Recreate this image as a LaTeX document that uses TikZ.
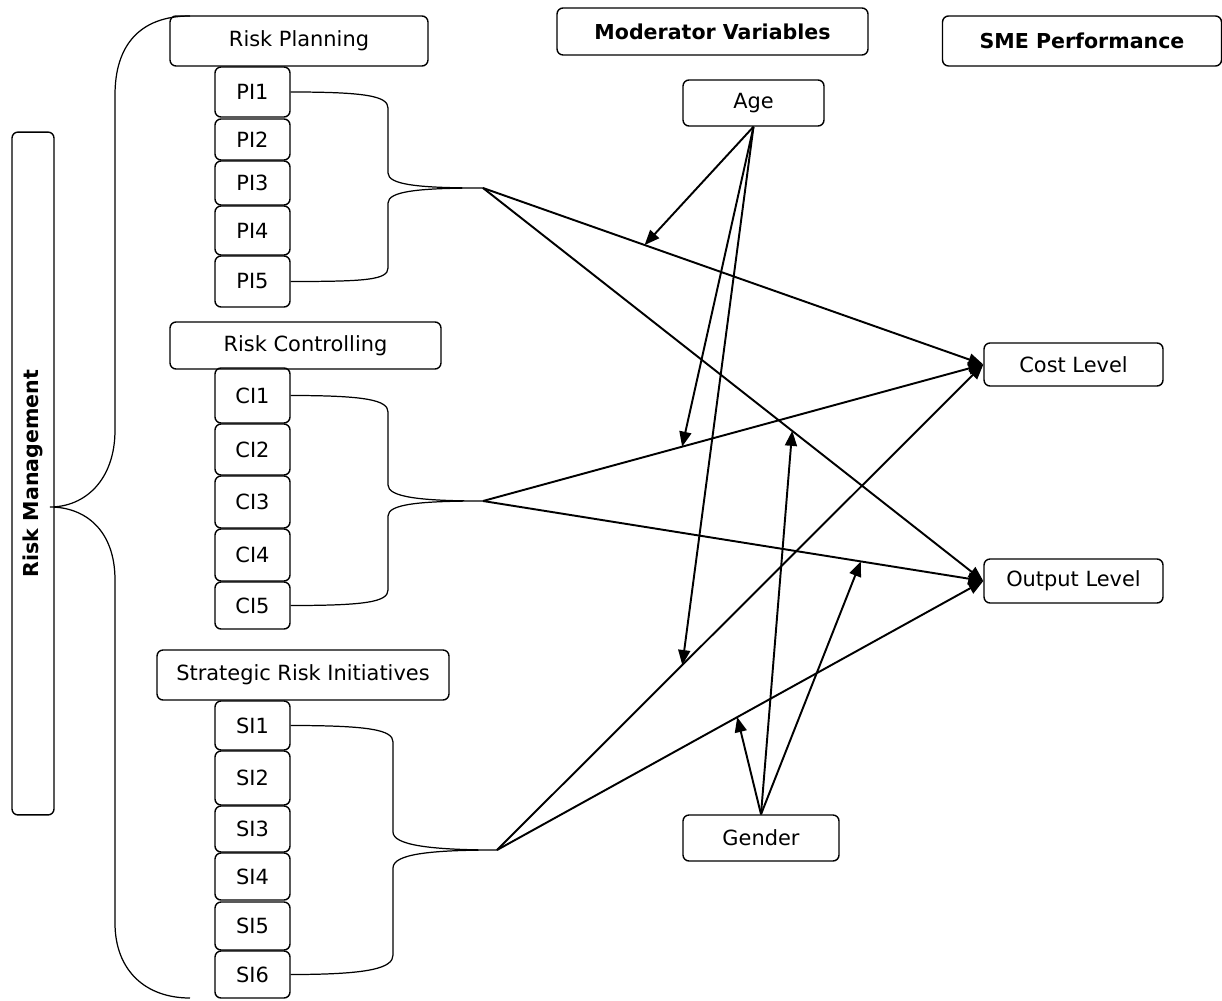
\documentclass[tikz,border=0pt]{standalone}
\usepackage{fontspec}
\setmainfont{DejaVu Sans}
\usetikzlibrary{arrows.meta}

\begin{document}
\begin{tikzpicture}[x=0.02cm, y=-0.02cm,
    box/.style={draw, rounded corners=0.12cm, line width=0.8pt, inner sep=0pt,
      font=\fontsize{11.9}{14}\selectfont},
    head/.style={box, font=\fontsize{11.7}{14}\selectfont\bfseries},
    item/.style={box, minimum width=1.5cm},
    arr/.style={line width=1.1pt, -{Triangle[length=0.3cm,width=0.24cm]}},
    brc/.style={line width=0.7pt}]
  \useasboundingbox (0,0) rectangle (1222,1000);

  %% headings
  \node[head, rotate=90, minimum width=13.66cm, minimum height=0.84cm] (rm) at (33,473.5) {Risk Management};
  \node[head, minimum width=6.22cm, minimum height=0.94cm] (mv) at (712.5,31.5) {Moderator Variables};
  \node[head, minimum width=5.58cm, minimum height=1cm] (sme) at (1082,41) {SME Performance};

  %% risk planning
  \node[box, minimum width=5.16cm, minimum height=1cm] (rp) at (299,41) {Risk Planning};
    \node[item, minimum height=1cm] (pi1) at (252.5,92) {PI1};
    \node[item, minimum height=0.82cm] (pi2) at (252.5,139.5) {PI2};
    \node[item, minimum height=0.88cm] (pi3) at (252.5,183) {PI3};
    \node[item, minimum height=0.98cm] (pi4) at (252.5,230.5) {PI4};
    \node[item, minimum height=1.02cm] (pi5) at (252.5,281.5) {PI5};

  %% risk controlling
  \node[box, minimum width=5.42cm, minimum height=0.94cm] (rc) at (305.5,345.5) {Risk Controlling};
    \node[item, minimum height=1.1cm] (ci1) at (252.5,395.5) {CI1};
    \node[item, minimum height=1.02cm] (ci2) at (252.5,449.5) {CI2};
    \node[item, minimum height=1.04cm] (ci3) at (252.5,502) {CI3};
    \node[item, minimum height=1.04cm] (ci4) at (252.5,555) {CI4};
    \node[item, minimum height=0.94cm] (ci5) at (252.5,605.5) {CI5};

  %% strategic risk initiatives
  \node[box, minimum width=5.84cm, minimum height=1cm] (sri) at (303,675) {Strategic Risk Initiatives};
    \node[item, minimum height=0.98cm] (si1) at (252.5,725.5) {SI1};
    \node[item, minimum height=1.08cm] (si2) at (252.5,778) {SI2};
    \node[item, minimum height=0.92cm] (si3) at (252.5,829) {SI3};
    \node[item, minimum height=0.94cm] (si4) at (252.5,876.5) {SI4};
    \node[item, minimum height=0.96cm] (si5) at (252.5,926) {SI5};
    \node[item, minimum height=0.94cm] (si6) at (252.5,974.5) {SI6};

  %% moderators and outcomes
  \node[box, minimum width=2.82cm, minimum height=0.92cm] (age) at (753.5,103) {Age};
  \node[box, minimum width=3.12cm, minimum height=0.92cm] (gen) at (761,838) {Gender};
  \node[box, minimum width=3.58cm, minimum height=0.86cm] (cost) at (1073.5,364.5) {Cost Level};
  \node[box, minimum width=3.58cm, minimum height=0.88cm] (out) at (1073.5,581) {Output Level};

  %% big brace
  \draw[brc] (190,16) .. controls (140,16) and (115,45) .. (115,95) -- (115,430)
    .. controls (115,480) and (85,507) .. (50,507)
    .. controls (85,507) and (115,530) .. (115,580) -- (115,923)
    .. controls (115,970) and (145,998) .. (190,998);

  %% small braces
  \coordinate (pt) at (483,188);
  \coordinate (ct) at (483,501);
  \coordinate (st) at (497,850);
  \draw[brc] (pi1.east) .. controls (365,92) and (388,96) .. (388,108) -- (388,173)
    .. controls (388,185) and (420,188) .. (pt)
    .. controls (420,188) and (388,191) .. (388,203) -- (388,268)
    .. controls (388,280) and (365,281.5) .. (pi5.east);
  \draw[brc] (ci1.east) .. controls (365,395.5) and (388,400) .. (388,412) -- (388,485)
    .. controls (388,497) and (420,501) .. (ct)
    .. controls (420,501) and (388,504) .. (388,516) -- (388,590)
    .. controls (388,602) and (365,605.5) .. (ci5.east);
  \draw[brc] (si1.east) .. controls (370,725.5) and (393,730) .. (393,742) -- (393,832)
    .. controls (393,845) and (430,850) .. (st)
    .. controls (430,850) and (393,854) .. (393,868) -- (393,955)
    .. controls (393,968) and (370,974.5) .. (si6.east);

  %% paths to outcomes
  \draw[arr] (pt) -- (cost.west);
  \draw[arr] (pt) -- (out.west);
  \draw[arr] (ct) -- (cost.west);
  \draw[arr] (ct) -- (out.west);
  \draw[arr] (st) -- (cost.west);
  \draw[arr] (st) -- (out.west);

  %% moderation points
  \path (pt) -- (cost.west) coordinate[pos=0.323] (m1);
  \path (ct) -- (cost.west) coordinate[pos=0.398] (m2);
  \path (st) -- (cost.west) coordinate[pos=0.381] (m3);
  \path (st) -- (out.west) coordinate[pos=0.494] (m4);
  \path (pt) -- (out.west) coordinate[pos=0.618] (m5);
  \path (ct) -- (out.west) coordinate[pos=0.755] (m6);

  \draw[arr] (age.south) -- (m1);
  \draw[arr] (age.south) -- (m2);
  \draw[arr] (age.south) -- (m3);
  \draw[arr] (gen.north) -- (m4);
  \draw[arr] (gen.north) -- (m5);
  \draw[arr] (gen.north) -- (m6);
\end{tikzpicture}
\end{document}
